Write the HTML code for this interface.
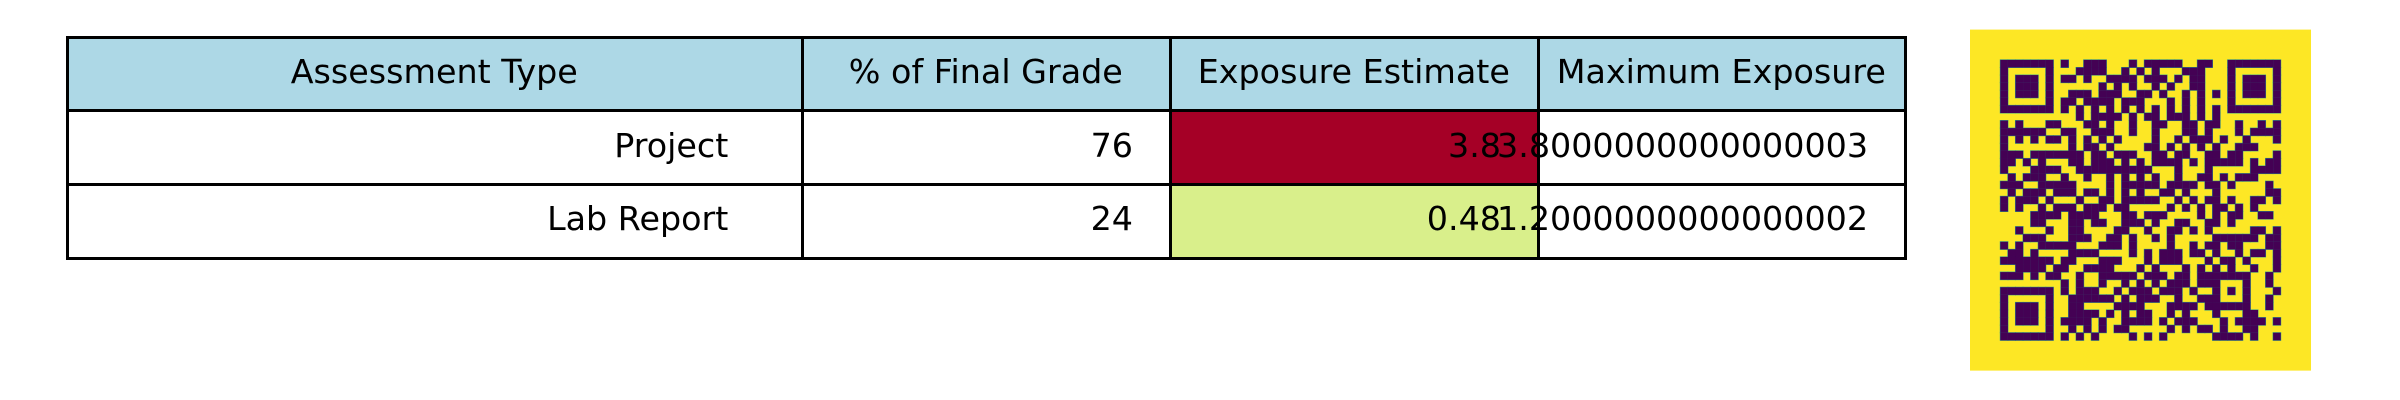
<!DOCTYPE html>
<html lang="en">
<head>
<meta charset="utf-8">
<title>Assessment exposure table</title>
<style>
html,body{margin:0;padding:0;background:#fff;width:2400px;height:400px;overflow:hidden}
svg{display:block}
text{font-family:"DejaVu Sans","Liberation Sans",sans-serif;font-size:33.33px;fill:#000}
</style>
</head>
<body>
<svg id="chart" xmlns="http://www.w3.org/2000/svg" width="2400" height="400" viewBox="0 0 2400 400">
  <rect x="0" y="0" width="2400" height="400" fill="#ffffff"/>
  <g id="table"></g>
  <g id="qr"></g>
</svg>
<script>
const headers = ["Assessment Type", "% of Final Grade", "Exposure Estimate", "Maximum Exposure"];
const assessmentTypes = ["Project", "Lab Report"];
const finalGradePct = ["76", "24"];
const exposureEstimate = ["3.8", "0.48"];
const maximumExposure = ["3.8000000000000003", "1.2000000000000002"];
const exposureColors = ["#a50026", "#d9ef8b"];
const qrRows = [
"1111111 0 1 00 111 000 1 0 11111 00 11 00 1111111",
"1000001 000 1111 00 1 0 1 0 1 000 111 000 1000001",
"1011101 0 11 0 1 00 1111 0 111 0 1 0 11 000 1011101",
"1011101 000000 1 0 1 0 1 00 1 0 1 00 11 000 1011101",
"1011101 00 111 0 111 00 11 0 1 00 1 0 1 0 1 0 1011101",
"1000001 0 11 0 1111 0 111 000 1 0 1 0 1 000 1000001",
"1111111 0 101010101010101010101 0 1111111",
"00000000 00 1 0 1111 0 1 0 11 0 111 0 1 0 1 00000000",
"1 0 1 000 11 000 11 0 1 00 1 00 11 00 11 0 11 00 1 00 1 0 1",
"111111 00 11 00 111 00 1 00 1 000 11 0 1 000 1 0 1111",
"1 0 1 0 1 0 11 0 1 0 1 0 1 0 1 0000 1 00 1 0 111 0 1 00 1 000 1",
"1 00000000 1 0 11 0 1 0000 11 0 1 0 1 0 1 0 1 00 111 000",
"111 0 1111111 0 11 0 111 00 11 0 11 00 11 0 11 0000 1",
"11 0 1 0 1 000 11 0 111 0 1 0 1 0 1111 0 1 0 11111 0 1 0 11",
"1 000 1111 00 1111111111 000 1 000 1 00000 1111",
"0 1 0 111 00 1 00 1 00 1 0 1 0 1 0 1 00 1 00 11 0 1 0 111 000",
"111 00 11111 0000 1 0 11111 0 1111 0 11 0 1 0000 1 0",
"0 1 0 111 0 111 0 11 0 1 0 1 0 1 00 11 0 1 000 1 000000 11",
"1 0 111 0 1 000 1 00 11 0 11111 00 1 0 1 0 11 0 1 00 11 0 1",
"1 0 1 00 1 0 111 0 111 0 11 00000 1 0 1 0 1 0 11 0 1 0 1 000",
"0000 1111 0 1111 000 11 0 111 0000 1 0 1 0 11 00 11 0",
"0000 11 000 11 0 11 00 111 0 1 00 11 00 11 0 1 000000",
"00 1 000 1 00 11 0000 11 00 1 00 11 0 1 0 1 00000 11 0 1",
"000 111 000 111 00 11 0 1 00 1 0 1 00000 111111 0 11",
"1 0 1 00 11111 000 111 0 1 0000 1 00 1 0 11 0 11 000 11",
"0 11 0 1 0000 1111 0000 1 0 1 0 111 0 11 0 1 00 1 0 11 0 1",
"1111111 0 11 000 111 000 1 0 111 000 1 0 11 0 1 000 1",
"00 1111 0 11 00 1111 000 1 0 1 000 1 0 1 0 1 0 1 00 1 00 1",
"111 0 1 0 11 00 1 00 11111 0 111 0 11 0 1111111 00 1 0",
"00000000 1 0 1 00 1 00 1 0 1 0 1 0 111 0 111 000 1 00 1 0",
"1111111 0 1 0 111 00 1 0 111 0 111 0 1 00 1 0 1 0 1 000 1",
"1000001 00 111111 0 1 0 111 00 1 00 111 000 1 00 1 0",
"1011101 00 11 0000 1111 000 1111 0 111111 00 1 0",
"1011101 00 1111 0 1 0 1 0 11 00 1 0 1 000 1 000 11 000",
"1011101 0 1111 0 1 00 1111 0 1 0 111 000 1 0 1111 0 1",
"1000001 00 1 0 1 0 1 0 11 00000 1 0 1 0 11 0 1 00 11 000",
"1111111 0 1 0 1 0 1 0000 1 0 1 0 1 000000 1111 0 1 00 1"
];

const NS = "http://www.w3.org/2000/svg";
const colLines = [67.5, 802.5, 1170.5, 1538.5, 1905.5];
const rowLines = [37.5, 110.5, 184.5, 258.5];
const textBaselines = [83, 157, 230];
const textNudgeX = -0.7;
const tableG = document.getElementById("table");
const qrG = document.getElementById("qr");

function svgEl(tag, parent, attrs) {
  const el = document.createElementNS(NS, tag);
  for (const k in attrs) el.setAttribute(k, attrs[k]);
  parent.appendChild(el);
  return el;
}

// cell fills
headers.forEach((h, c) => {
  const el = svgEl("rect", tableG, {x: colLines[c], y: rowLines[0], width: colLines[c + 1] - colLines[c], height: rowLines[1] - rowLines[0], fill: "#add8e6"});
  
  
});
exposureEstimate.forEach((v, r) => {
  const el = svgEl("rect", tableG, {x: colLines[2], y: rowLines[r + 1], width: colLines[3] - colLines[2], height: rowLines[r + 2] - rowLines[r + 1], fill: exposureColors[r]});
  
  
});

// grid lines
rowLines.forEach(y => {
  const el = svgEl("line", tableG, {x1: colLines[0] - 1.5, x2: colLines[4] + 1.5, y1: y, y2: y, stroke: "#000", "stroke-width": 3});
  
  
});
colLines.forEach(x => {
  const el = svgEl("line", tableG, {x1: x, x2: x, y1: rowLines[0], y2: rowLines[3], stroke: "#000", "stroke-width": 3});
  
  
});

// text
headers.forEach((h, c) => {
  const el = svgEl("text", tableG, {x: (colLines[c] + colLines[c + 1]) / 2 + textNudgeX, y: textBaselines[0], "text-anchor": "middle"});
  el.textContent = h;
  
  
});
const bodyColumns = [assessmentTypes, finalGradePct, exposureEstimate, maximumExposure];
bodyColumns.forEach((col, c) => {
  col.forEach((v, r) => {
    const el = svgEl("text", tableG, {x: colLines[c] + (colLines[c + 1] - colLines[c]) * 0.9 + textNudgeX, y: textBaselines[r + 1], "text-anchor": "end"});
    el.textContent = v;
    
    
  });
});

// QR heatmap
const qrBgX = 1970, qrBgY = 29.6, qrModule = 7.578, qrQuiet = 4;
const qrMatrix = qrRows.map(s => s.replace(/ /g, ""));
const qrSize = qrMatrix.length;
const qrX = c => qrBgX + (c + qrQuiet) * qrModule;
const qrY = r => qrBgY + (r + qrQuiet) * qrModule;
const qrBg = svgEl("rect", qrG, {x: qrBgX, y: qrBgY, width: (qrSize + 2 * qrQuiet) * qrModule, height: (qrSize + 2 * qrQuiet) * qrModule, fill: "#fde725"});


const edgeG = svgEl("g", qrG, {fill: "#2a9d8f"});


const darkG = svgEl("g", qrG, {fill: "#440154"});


qrMatrix.forEach((row, r) => {
  [...row].forEach((v, c) => {
    if (v !== "1") return;
    svgEl("rect", edgeG, {x: qrX(c) - 0.5, y: qrY(r) - 0.5, width: qrModule + 1, height: qrModule + 1});
  });
});
qrMatrix.forEach((row, r) => {
  [...row].forEach((v, c) => {
    if (v !== "1") return;
    const el = svgEl("rect", darkG, {x: qrX(c), y: qrY(r), width: qrModule + 0.05, height: qrModule + 0.05});
    
    
  });
});
</script>
</body>
</html>
